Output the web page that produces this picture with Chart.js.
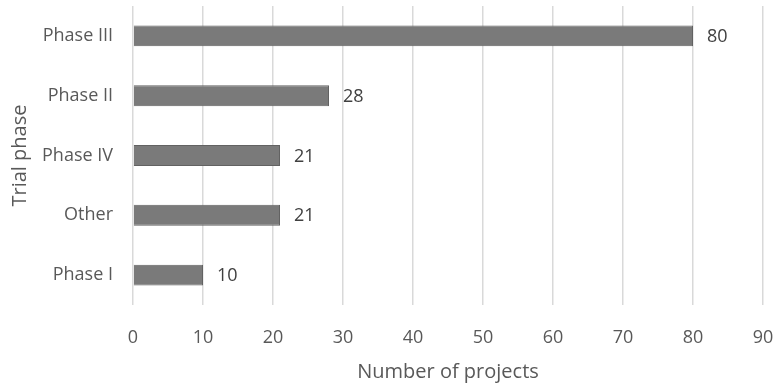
<!DOCTYPE html>
<html><head><meta charset="utf-8">
<script src="https://cdn.jsdelivr.net/npm/chart.js@4/dist/chart.umd.min.js"></script>
<style>html,body{margin:0;padding:0;background:#fff}#wrap{width:780px;height:387px}</style>
</head><body><div id="wrap"><canvas id="c"></canvas></div>
<script>
const categories = ["Phase III", "Phase II", "Phase IV", "Other", "Phase I"];
const projects = [80, 28, 21, 21, 10];
const xTicks = [0, 10, 20, 30, 40, 50, 60, 70, 80, 90];

const FONT = "'Open Sans', 'Noto Sans', sans-serif";

const valueLabels = {
  id: 'valueLabels',
  afterDatasetsDraw(chart) {
    const ctx = chart.ctx;
    const meta = chart.getDatasetMeta(0);
    ctx.save();
    ctx.font = "18px " + FONT;
    ctx.fillStyle = '#404040';
    ctx.textAlign = 'left';
    ctx.textBaseline = 'middle';
    meta.data.forEach((bar, i) => {
      ctx.fillText(String(projects[i]), bar.x + 14, bar.y + 1);
    });
    ctx.restore();
  }
};

new Chart(document.getElementById('c'), {
  type: 'bar',
  data: {
    labels: categories,
    datasets: [{
      data: projects,
      backgroundColor: '#7a7a7a',
      borderColor: '#626262',
      borderWidth: 1,
      barPercentage: 0.7,
      categoryPercentage: 0.5
    }]
  },
  options: {
    indexAxis: 'y',
    responsive: true,
    maintainAspectRatio: false,
    animation: false,
    layout: { padding: { top: 6, right: 17, left: 0, bottom: 0 } },
    plugins: { legend: { display: false }, tooltip: { enabled: false } },
    scales: {
      x: {
        min: 0, max: 90,
        afterBuildTicks(scale) { scale.ticks = xTicks.map(v => ({ value: v })); },
        afterFit(scale) { scale.height = 82; scale.paddingLeft = 0; scale.paddingRight = 0; },
        grid: { color: '#d9d9d9', lineWidth: 1.5, drawTicks: false },
        border: { display: false },
        ticks: { padding: 22, color: '#595959', font: { family: FONT, size: 18 } },
        title: { display: true, text: 'Number of projects', color: '#595959',
                 font: { family: FONT, size: 20 }, padding: { top: 0, bottom: 3 } }
      },
      y: {
        afterFit(scale) { scale.width = 133; scale.paddingTop = 0; scale.paddingBottom = 0; },
        grid: { display: false, drawTicks: false },
        border: { display: false },
        ticks: { padding: 20, color: '#595959', font: { family: FONT, size: 18 } },
        title: { display: true, text: 'Trial phase', color: '#595959',
                 font: { family: FONT, size: 20 }, padding: { top: 8, bottom: 0 } }
      }
    }
  },
  plugins: [valueLabels]
});
</script></body></html>
